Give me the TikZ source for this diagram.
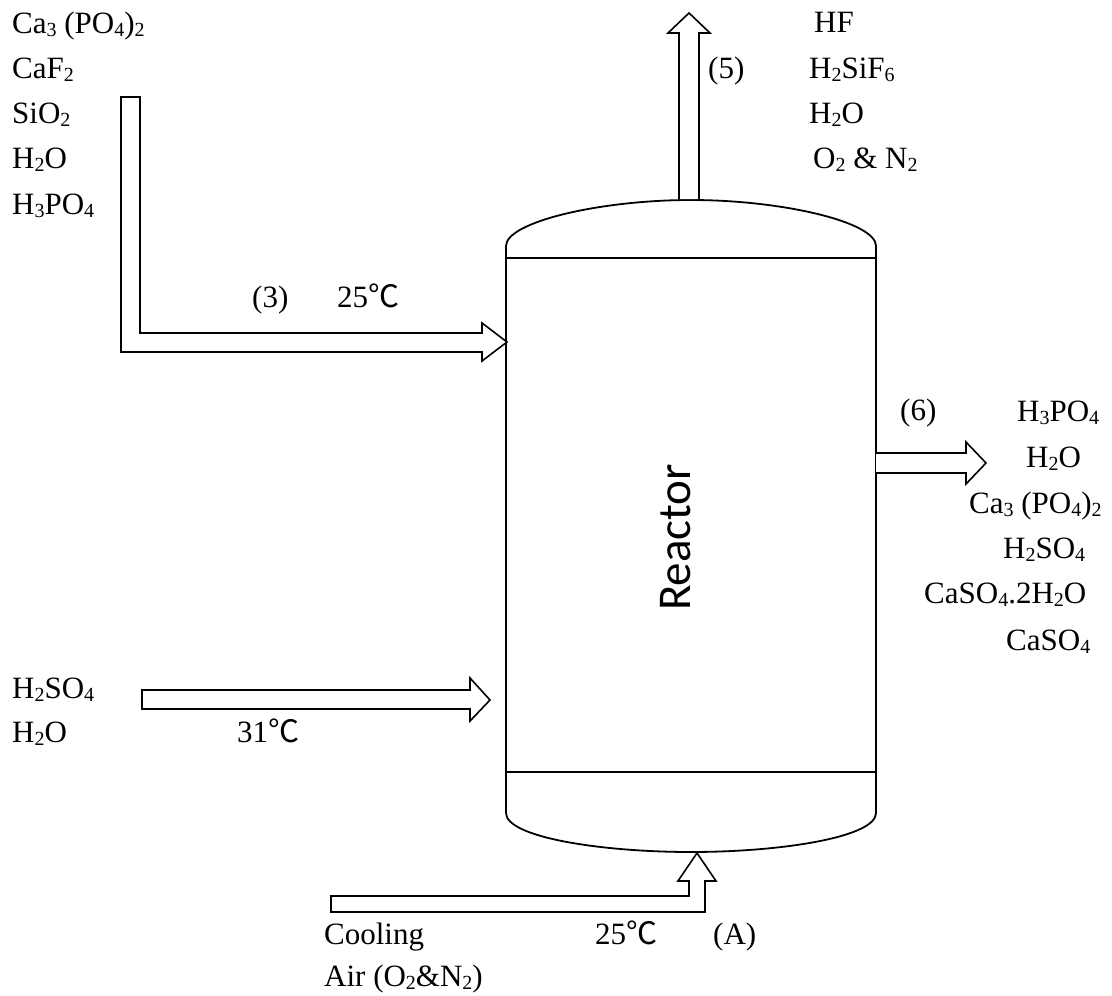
\documentclass[tikz,border=0pt]{standalone}
\usepackage{fontspec}
\setmainfont{Liberation Serif}
\newfontfamily\cjkf{Noto Sans CJK SC}
\newfontfamily\calf{Carlito}
\newcommand\subs[1]{\raisebox{-3pt}{\fontsize{20}{20}\selectfont #1}}
\newcommand\degC{{\cjkf ℃}}
\tikzset{
  lbl/.style={anchor=base west, inner sep=0pt, font=\fontsize{31}{36}\selectfont},
  pipe/.style={draw, line width=1.6pt, line join=miter, fill=white},
  vessel/.style={draw, line width=1.8pt, line join=round}
}
\begin{document}
\begin{tikzpicture}[x=1pt,y=-1pt]
\useasboundingbox[fill=white] (0,0) rectangle (1112,996);

% reactor
\coordinate (tl) at (506,258);
\coordinate (tr) at (876,258);
\coordinate (bl) at (506,772);
\coordinate (br) at (876,772);
\draw[vessel] (506,813) -- (506,246) .. controls (506,222) and (600,200) .. (691,200)
  .. controls (782,200) and (876,222) .. (876,246) -- (876,813)
  .. controls (876,837) and (782,852) .. (691,852)
  .. controls (600,852) and (506,837) .. (506,813);
\draw[vessel] (tl) -- (tr);
\draw[vessel] (bl) -- (br);
\node[rotate=90, anchor=base west, inner sep=0pt, font=\calf\fontsize{47}{50}\selectfont] (reactor) at (690,611) {Reactor};

% stream 5 (top)
\draw[pipe] (679,199) -- (679,33) -- (668,33) -- (689,13) -- (710,33) -- (699,33) -- (699,199);
% stream 3 (left, bent)
\draw[pipe] (121,97) -- (121,352) -- (482,352) -- (482,361) -- (507,342) -- (482,323) -- (482,333) -- (140,333) -- (140,97) -- cycle;
% stream 6 (right)
\draw[pipe] (876,453) -- (966,453) -- (966,442) -- (986,463) -- (966,484) -- (966,473) -- (876,473);
% acid feed
\draw[pipe] (142,690) -- (470,690) -- (470,678) -- (490,700) -- (470,721) -- (470,709) -- (142,709) -- cycle;
% cooling air
\draw[pipe] (331,896) -- (689,896) -- (689,881) -- (678,881) -- (697,853) -- (716,881) -- (705,881) -- (705,912) -- (331,912) -- cycle;

% feed 3 labels
\node[lbl] (f1) at (12,33) {Ca\subs{3} (PO\subs{4})\subs{2}};
\node[lbl] (f2) at (12,78) {CaF\subs{2}};
\node[lbl] (f3) at (12,123) {SiO\subs{2}};
\node[lbl] (f4) at (12,168) {H\subs{2}O};
\node[lbl] (f5) at (12,214) {H\subs{3}PO\subs{4}};
\node[lbl] (s3) at (252,307) {(3)};
\node[lbl] (t3) at (337,307) {25\degC};

% stream 5 labels
\node[lbl] (s5) at (708,78) {(5)};
\node[lbl] (g1) at (814,32) {HF};
\node[lbl] (g2) at (809,78) {H\subs{2}SiF\subs{6}};
\node[lbl] (g3) at (809,123) {H\subs{2}O};
\node[lbl] (g4) at (813,168) {O\subs{2} \& N\subs{2}};

% stream 6 labels
\node[lbl] (s6) at (900,420) {(6)};
\node[lbl] (p1) at (1017,421) {H\subs{3}PO\subs{4}};
\node[lbl] (p2) at (1026,467) {H\subs{2}O};
\node[lbl] (p3) at (969,513) {Ca\subs{3} (PO\subs{4})\subs{2}};
\node[lbl] (p4) at (1003,558) {H\subs{2}SO\subs{4}};
\node[lbl] (p5) at (924,603) {CaSO\subs{4}.2H\subs{2}O};
\node[lbl] (p6) at (1006,650) {CaSO\subs{4}};

% acid labels
\node[lbl] (a1) at (12,698) {H\subs{2}SO\subs{4}};
\node[lbl] (a2) at (12,742) {H\subs{2}O};
\node[lbl] (ta) at (237,742) {31\degC};

% cooling air labels
\node[lbl] (c1) at (324,944) {Cooling};
\node[lbl] (c2) at (324,986) {Air (O\subs{2}\&N\subs{2})};
\node[lbl] (tc) at (595,944) {25\degC};
\node[lbl] (sA) at (713,944) {(A)};
\end{tikzpicture}
\end{document}
